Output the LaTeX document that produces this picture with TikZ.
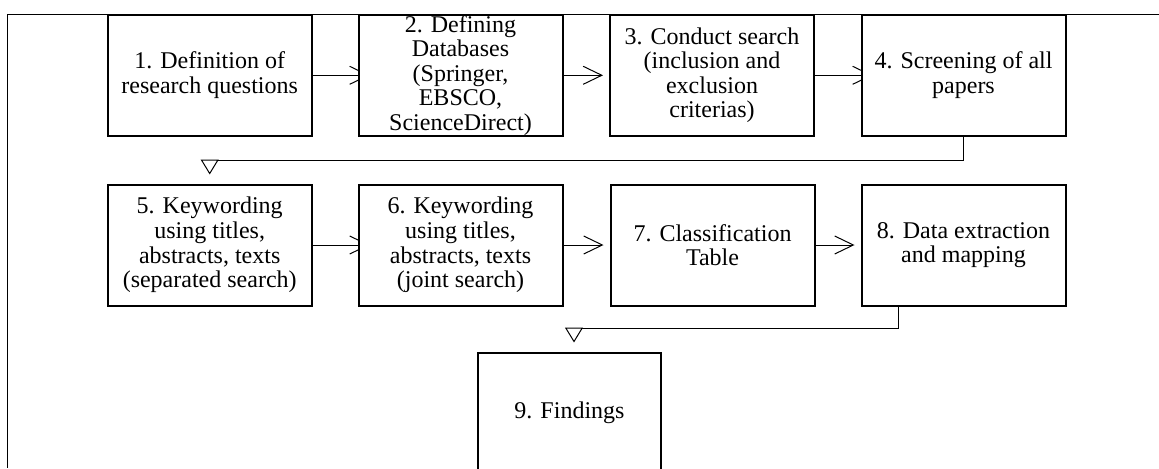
\documentclass[tikz,border=0pt]{standalone}
\usepackage{fontspec}
\setmainfont{Liberation Serif}
\usetikzlibrary{arrows.meta,backgrounds,calc}
\begin{document}
\begin{tikzpicture}[x=0.75pt,y=-0.75pt,
  stepbox/.style={draw, line width=1.5pt, fill=white, align=center,
    minimum width=153pt, minimum height=90.75pt, inner sep=0pt,
    font=\fontsize{18pt}{18.4pt}\selectfont},
  flow/.style={line width=0.75pt, -{Straight Barb[length=14pt,width=13.5pt]}},
  drop/.style={line width=0.75pt, -{Triangle[open,fill=white,length=11.25pt,width=13.5pt]}},
  frameline/.style={line width=0.75pt}]
\useasboundingbox (0,0) rectangle (1159,468);
\clip (0,0) rectangle (1159,468);

% first row
\node[stepbox] (b1) at (209.7,75.3) {1. Definition of\\research questions};
\node[stepbox] (b2) at (460.5,75.3) {2. Defining\\Databases\\(Springer,\\EBSCO,\\ScienceDirect)};
\node[stepbox] (b3) at (712,75.3) {3. Conduct search\\(inclusion and\\exclusion\\criterias)};
\node[stepbox] (b4) at (963.5,75.3) {4. Screening of all\\papers};

% second row
\node[stepbox] (b5) at (209.7,245) {5. Keywording\\using titles,\\abstracts, texts\\(separated search)};
\node[stepbox] (b6) at (460.5,245) {6. Keywording\\using titles,\\abstracts, texts\\(joint search)};
\node[stepbox] (b7) at (712.5,245) {7. Classification\\Table};
\node[stepbox] (b8) at (963.5,245) {8. Data extraction\\and mapping};

% final step
\node[stepbox, minimum width=137.25pt] (b9) at (569.5,413) {9. Findings};

\coordinate (c8) at ($(b8.south)+(-65.5,0)$);

\begin{scope}[on background layer]
  % outer frame
  \draw[frameline] (1159,14) -- (7,14) -- (7,468);
  % horizontal links
  \draw[flow, shorten >=-9pt] (b1.east) -- (b2.west);
  \draw[flow, shorten >=4.5pt] (b2.east) -- (b3.west);
  \draw[flow, shorten >=-9pt] (b3.east) -- (b4.west);
  \draw[flow, shorten >=-9pt] (b5.east) -- (b6.west);
  \draw[flow, shorten >=4.5pt] (b6.east) -- (b7.west);
  \draw[flow, shorten >=4.5pt] (b7.east) -- (b8.west);
\end{scope}

% row-to-row links
\draw[drop] (b4.south) -- ++(0,24) -| ($(b5.north)+(0,-9)$);
\draw[drop] (c8) -- ++(0,22) -| ($(b9.north)+(4.5,-9)$);
\end{tikzpicture}
\end{document}
